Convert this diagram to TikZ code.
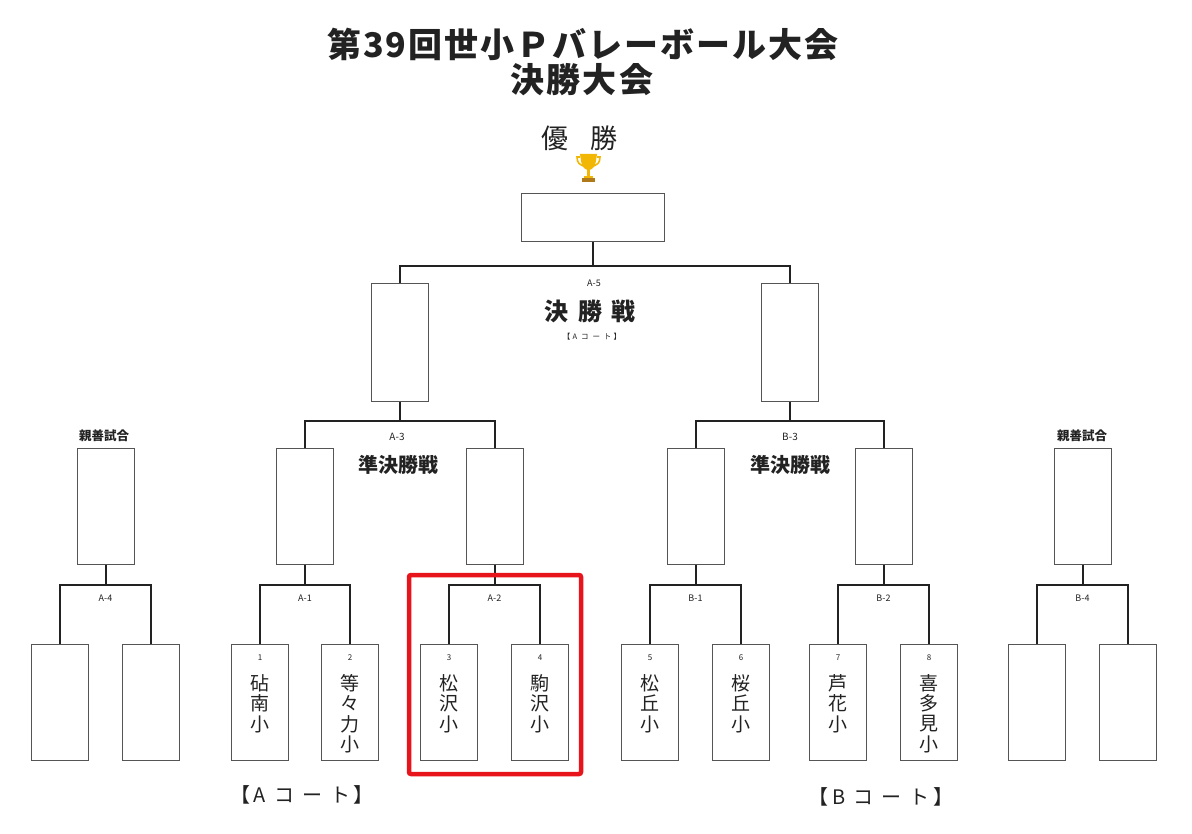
\documentclass[tikz,border=0pt]{standalone}
\usepackage{fontspec}
\newfontfamily\jp{Noto Sans CJK JP}
\definecolor{linec}{HTML}{222222}
\definecolor{boxc}{HTML}{555555}
\definecolor{txt}{HTML}{222222}
\definecolor{hl}{HTML}{E8141B}
\definecolor{gold}{HTML}{F2B705}
\definecolor{golddark}{HTML}{B07A1A}
\newcommand\vnm[3]{%
  \foreach \c [count=\i] in {#3} \node[namec] (#1-\i) at (#2, 683+20.5*\i-20.5) {\c};}
\begin{document}
\begin{tikzpicture}[x=1pt,y=-1pt,
  box/.style={draw=boxc, line width=1pt, minimum width=57pt, minimum height=116pt, inner sep=0pt},
  conn/.style={draw=linec, line width=2pt},
  small/.style={font=\jp\fontsize{9}{9}\selectfont, text=txt, inner sep=0pt},
  numc/.style={font=\jp\fontsize{8}{8}\selectfont, text=txt, inner sep=0pt},
  namec/.style={font=\jp\fontsize{19}{19}\selectfont, text=txt, inner sep=0pt},
  title/.style={font=\jp\bfseries\fontsize{34}{34}\selectfont\addfontfeature{LetterSpace=6}, text=txt, inner sep=0pt},
  round/.style={font=\jp\bfseries\fontsize{20}{20}\selectfont, text=txt, inner sep=0pt},
  court/.style={font=\jp\fontsize{20}{20}\selectfont\addfontfeature{LetterSpace=18}, text=txt, inner sep=0pt}]
\useasboundingbox[fill=white] (0,0) rectangle (1192,834);

% titles
\node[title] (t1) at (583,44) {第39回世小Ｐバレーボール大会};
\node[title] (t2) at (582,80) {決勝大会};
\node[font=\jp\fontsize{27}{27}\selectfont, text=txt, inner sep=0pt] (yu1) at (555,138) {優};
\node[font=\jp\fontsize{27}{27}\selectfont, text=txt, inner sep=0pt] (yu2) at (604,138) {勝};

% trophy
\fill[gold] (580,154) -- (597,154) -- (596,161) .. controls (595,167) and (592,170) .. (588.5,170) .. controls (585,170) and (582,167) .. (581,161) -- cycle;
\draw[gold, line width=1.6pt] (580,157) -- (577,157) .. controls (577,163) and (580,165) .. (583,166);
\draw[gold, line width=1.6pt] (597,157) -- (600,157) .. controls (600,163) and (597,165) .. (594,166);
\fill[gold] (587,169) rectangle (590,176);
\fill[gold] (584,176) rectangle (593,178);
\fill[golddark] (582,178) rectangle (595,182);

% champion box
\node[box, minimum width=143pt, minimum height=48pt] (champ) at (592.5,218) {};

% top boxes
\node[box, minimum height=117pt] (T1) at (399.75,342.5) {};
\node[box, minimum height=117pt] (T2) at (789.5,342.5) {};

% semi boxes
\node[box] (SA4) at (105.5,506) {};
\node[box] (SA1) at (305,506) {};
\node[box] (SA2) at (494.5,506) {};
\node[box] (SB1) at (695.5,506) {};
\node[box] (SB2) at (883.5,506) {};
\node[box] (SB4) at (1082.5,506) {};

% leaves
\node[box] (L1) at (60,702) {};
\node[box] (L2) at (151,702) {};
\node[box] (L3) at (260,702) {};
\node[box] (L4) at (350,702) {};
\node[box] (L5) at (449,702) {};
\node[box] (L6) at (540,702) {};
\node[box] (L7) at (650,702) {};
\node[box] (L8) at (741,702) {};
\node[box] (L9) at (838,702) {};
\node[box] (L10) at (929,702) {};
\node[box] (L11) at (1037,702) {};
\node[box] (L12) at (1128,702) {};

% brackets
\coordinate (jA4) at (105.5,585);
\coordinate (jA1) at (305,585);
\coordinate (jA2) at (494.5,585);
\coordinate (jB1) at (695.5,585);
\coordinate (jB2) at (883.5,585);
\coordinate (jB4) at (1082.5,585);
\draw[conn] (L1.north) |- (jA4) -| (L2.north); \draw[conn] (SA4.south) -- (jA4);
\draw[conn] (L3.north) |- (jA1) -| (L4.north); \draw[conn] (SA1.south) -- (jA1);
\draw[conn] (L5.north) |- (jA2) -| (L6.north); \draw[conn] (SA2.south) -- (jA2);
\draw[conn] (L7.north) |- (jB1) -| (L8.north); \draw[conn] (SB1.south) -- (jB1);
\draw[conn] (L9.north) |- (jB2) -| (L10.north); \draw[conn] (SB2.south) -- (jB2);
\draw[conn] (L11.north) |- (jB4) -| (L12.north); \draw[conn] (SB4.south) -- (jB4);
\coordinate (jA3) at (399.75,421);
\coordinate (jB3) at (789.5,421);
\draw[conn] (SA1.north) |- (jA3) -| (SA2.north); \draw[conn] (T1.south) -- (jA3);
\draw[conn] (SB1.north) |- (jB3) -| (SB2.north); \draw[conn] (T2.south) -- (jB3);
\coordinate (jF) at (594.6,266);
\draw[conn] (T1.north) |- (jF) -| (T2.north);
\draw[conn] (champ.south) -- (champ.south |- jF);

% final labels
\node[small] (lA5) at (594,283) {A-5};
\node[font=\jp\bfseries\fontsize{24}{24}\selectfont, text=txt, inner sep=0pt] (f1) at (556,311) {決};
\node[font=\jp\bfseries\fontsize{24}{24}\selectfont, text=txt, inner sep=0pt] (f2) at (590,311) {勝};
\node[font=\jp\bfseries\fontsize{24}{24}\selectfont, text=txt, inner sep=0pt] (f3) at (623,311) {戦};
\node[font=\jp\fontsize{7.5}{7.5}\selectfont\addfontfeature{LetterSpace=30}, text=txt, inner sep=0pt] (fc) at (592,337) {【A\ コ\ ー\ ト】};

% semi labels
\node[small, font=\jp\fontsize{10}{10}\selectfont] (lA3) at (397,437) {A-3};
\node[round] (rA3) at (398,465) {準決勝戦};
\node[small, font=\jp\fontsize{10}{10}\selectfont] (lB3) at (790,437) {B-3};
\node[round] (rB3) at (790,465) {準決勝戦};
\node[font=\jp\bfseries\fontsize{12.5}{12.5}\selectfont, text=txt, inner sep=0pt] (sz1) at (104,436) {親善試合};
\node[font=\jp\bfseries\fontsize{12.5}{12.5}\selectfont, text=txt, inner sep=0pt] (sz2) at (1082,436) {親善試合};

% first-round labels
\node[small] (lA4) at (105.5,598) {A-4};
\node[small] (lA1) at (305,598) {A-1};
\node[small] (lA2) at (494.5,598) {A-2};
\node[small] (lB1) at (695.5,598) {B-1};
\node[small] (lB2) at (883.5,598) {B-2};
\node[small] (lB4) at (1082.5,598) {B-4};

% team numbers
\node[numc] (n1) at (L3.north |- 0,658) {1};
\node[numc] (n2) at (L4.north |- 0,658) {2};
\node[numc] (n3) at (L5.north |- 0,658) {3};
\node[numc] (n4) at (L6.north |- 0,658) {4};
\node[numc] (n5) at (L7.north |- 0,658) {5};
\node[numc] (n6) at (L8.north |- 0,658) {6};
\node[numc] (n7) at (L9.north |- 0,658) {7};
\node[numc] (n8) at (L10.north |- 0,658) {8};

% team names
\vnm{m1}{260}{砧,南,小}
\vnm{m2}{350}{等,々,力,小}
\vnm{m3}{449}{松,沢,小}
\vnm{m4}{540}{駒,沢,小}
\vnm{m5}{650}{松,丘,小}
\vnm{m6}{741}{桜,丘,小}
\vnm{m7}{838}{芦,花,小}
\vnm{m8}{929}{喜,多,見,小}

% courts
\node[court] (cA) at (302,795) {【A\ コ\ ー\ ト】};
\node[court] (cB) at (881,797) {【B\ コ\ ー\ ト】};

% highlight
\draw[hl, line width=4.5pt, rounded corners=2pt] (409,575) rectangle (581,774);
\end{tikzpicture}
\end{document}
